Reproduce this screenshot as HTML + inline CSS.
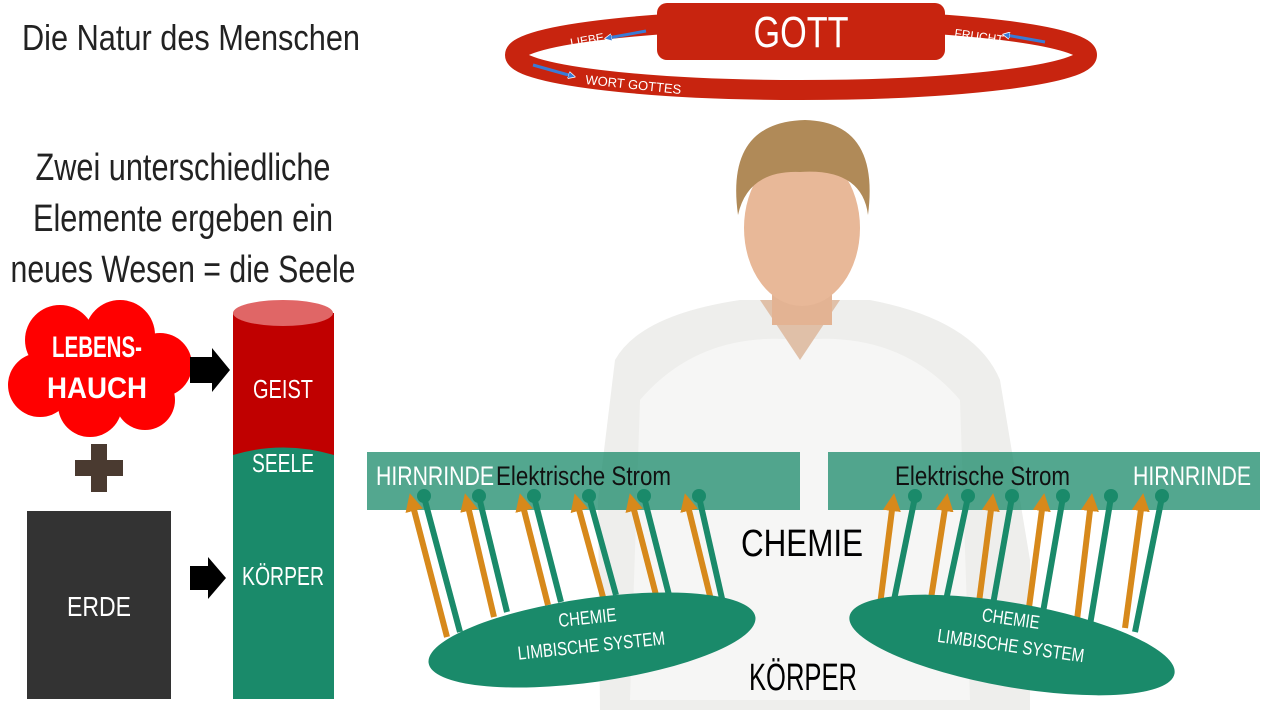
<!DOCTYPE html>
<html><head><meta charset="utf-8"><style>
html,body{margin:0;padding:0;background:#fff;width:1280px;height:720px;overflow:hidden}
text{font-family:"Liberation Sans Narrow","Liberation Sans",sans-serif}
</style></head><body>
<svg width="1280" height="720" viewBox="0 0 1280 720" xmlns="http://www.w3.org/2000/svg">
<defs>
<marker id="ah" viewBox="0 0 10 10" refX="5" refY="5" markerWidth="3" markerHeight="3" orient="auto"><path d="M0,0L10,5L0,10z" fill="#d7891b"/></marker>
<marker id="bh" viewBox="0 0 10 10" refX="5" refY="5" markerWidth="2.5" markerHeight="2.5" orient="auto"><path d="M0,0L10,5L0,10z" fill="#3a7bd5" stroke="#fff" stroke-width="1"/></marker>
</defs>
<!-- person -->
<path d="M615,360 Q640,315 740,300 L870,300 Q975,320 1000,380 L1030,560 L1030,710 L600,710 L598,500 Z" fill="#eeeeec"/>
<path d="M640,400 Q700,330 800,340 Q900,330 960,400 L970,700 L630,700 Z" fill="#f6f6f5"/>
<path d="M760,300 L800,360 L840,300 Z" fill="#e0c0a8"/>
<rect x="772" y="280" width="60" height="45" fill="#e3b393"/>
<ellipse cx="802" cy="228" rx="58" ry="78" fill="#e8b898"/>
<path d="M738,215 Q725,122 805,120 Q880,122 868,215 Q862,168 800,172 Q748,170 738,215Z" fill="#b08a58"/>
<!-- top ellipse ring -->
<ellipse cx="801" cy="55" rx="286" ry="35" fill="none" stroke="#c8240f" stroke-width="20"/>
<rect x="657" y="3" width="288" height="57" rx="10" fill="#c8240f"/>
<text x="801" y="47" font-size="44" fill="#fff" text-anchor="middle" textLength="95" lengthAdjust="spacingAndGlyphs">GOTT</text>
<text x="571" y="47" font-size="12" fill="#fff" transform="rotate(-10 571 47)">LIEBE</text>
<path d="M646,31 L608,38" stroke="#3a7bd5" stroke-width="3" marker-end="url(#bh)"/>
<text x="954" y="37" font-size="12" fill="#fff" transform="rotate(8 954 37)">FRUCHT</text>
<path d="M1045,42 L1006,35" stroke="#3a7bd5" stroke-width="3" marker-end="url(#bh)"/>
<path d="M533,65 L572,76" stroke="#3a7bd5" stroke-width="3" marker-end="url(#bh)"/>
<text x="585" y="84" font-size="13" fill="#fff" transform="rotate(6 585 84)">WORT GOTTES</text>
<!-- titles -->
<text x="22" y="50" font-size="36" fill="#222" textLength="338" lengthAdjust="spacingAndGlyphs">Die Natur des Menschen</text>
<text x="183" y="180" font-size="38" fill="#222" text-anchor="middle" textLength="295" lengthAdjust="spacingAndGlyphs">Zwei unterschiedliche</text>
<text x="183" y="231" font-size="38" fill="#222" text-anchor="middle" textLength="300" lengthAdjust="spacingAndGlyphs">Elemente ergeben ein</text>
<text x="183" y="282" font-size="38" fill="#222" text-anchor="middle" textLength="345" lengthAdjust="spacingAndGlyphs">neues Wesen = die Seele</text>
<!-- cloud -->
<g fill="#f00">
<circle cx="60" cy="340" r="35"/><circle cx="120" cy="335" r="35"/><circle cx="160" cy="365" r="32"/>
<circle cx="145" cy="400" r="30"/><circle cx="90" cy="405" r="32"/><circle cx="40" cy="385" r="32"/><circle cx="100" cy="370" r="40"/>
</g>
<text x="97" y="357" font-size="30" font-weight="bold" fill="#fff" text-anchor="middle" textLength="90" lengthAdjust="spacingAndGlyphs">LEBENS-</text>
<text x="97" y="398" font-size="30" font-weight="bold" fill="#fff" text-anchor="middle" textLength="100" lengthAdjust="spacingAndGlyphs">HAUCH</text>
<!-- plus -->
<rect x="75" y="460" width="48" height="16" fill="#4a3a30"/><rect x="91" y="444" width="16" height="48" fill="#4a3a30"/>
<!-- ERDE -->
<rect x="27" y="511" width="144" height="188" fill="#333"/>
<text x="99" y="616" font-size="28" fill="#fff" text-anchor="middle" textLength="64" lengthAdjust="spacingAndGlyphs">ERDE</text>
<!-- arrows -->
<path d="M190,357 L212,357 L212,348 L230,370 L212,392 L212,383 L190,383Z" fill="#000"/>
<path d="M190,566 L208,566 L208,557 L226,578 L208,599 L208,590 L190,590Z" fill="#000"/>
<!-- cylinder -->
<rect x="233" y="313" width="101" height="145" fill="#c00000"/>
<rect x="233" y="455" width="101" height="244" fill="#1a8a6a"/>
<path d="M233,455 Q283,440 334,455" fill="#1a8a6a"/>
<ellipse cx="283" cy="313" rx="50" ry="13" fill="#e06666"/>
<text x="283" y="398" font-size="26" fill="#fff" text-anchor="middle" textLength="60" lengthAdjust="spacingAndGlyphs">GEIST</text>
<text x="283" y="472" font-size="26" fill="#fff" text-anchor="middle" textLength="62" lengthAdjust="spacingAndGlyphs">SEELE</text>
<text x="283" y="585" font-size="26" fill="#fff" text-anchor="middle" textLength="82" lengthAdjust="spacingAndGlyphs">KÖRPER</text>
<!-- green bands -->
<rect x="367" y="452" width="433" height="58" fill="#1a8a6a" opacity="0.75"/>
<rect x="828" y="452" width="432" height="58" fill="#1a8a6a" opacity="0.75"/>
<text x="376" y="485" font-size="27" fill="#fff" textLength="118" lengthAdjust="spacingAndGlyphs">HIRNRINDE</text>
<text x="496" y="485" font-size="27" fill="#111" textLength="175" lengthAdjust="spacingAndGlyphs">Elektrische Strom</text>
<text x="895" y="485" font-size="27" fill="#111" textLength="175" lengthAdjust="spacingAndGlyphs">Elektrische Strom</text>
<text x="1133" y="485" font-size="27" fill="#fff" textLength="118" lengthAdjust="spacingAndGlyphs">HIRNRINDE</text>
<!-- left arrows -->
<g stroke-width="6">
<line x1="447" y1="637" x2="412" y2="502" stroke="#d7891b" marker-end="url(#ah)"/>
<line x1="460" y1="632" x2="424" y2="497" stroke="#1a8a6a"/>
<line x1="494" y1="617" x2="467" y2="502" stroke="#d7891b" marker-end="url(#ah)"/>
<line x1="507" y1="612" x2="479" y2="497" stroke="#1a8a6a"/>
<line x1="548" y1="605" x2="522" y2="502" stroke="#d7891b" marker-end="url(#ah)"/>
<line x1="561" y1="602" x2="534" y2="497" stroke="#1a8a6a"/>
<line x1="603" y1="597" x2="577" y2="502" stroke="#d7891b" marker-end="url(#ah)"/>
<line x1="616" y1="595" x2="589" y2="497" stroke="#1a8a6a"/>
<line x1="656" y1="595" x2="632" y2="502" stroke="#d7891b" marker-end="url(#ah)"/>
<line x1="669" y1="595" x2="644" y2="497" stroke="#1a8a6a"/>
<line x1="711" y1="600" x2="687" y2="502" stroke="#d7891b" marker-end="url(#ah)"/>
<line x1="723" y1="603" x2="699" y2="497" stroke="#1a8a6a"/>
</g>
<g fill="#1a8a6a"><circle cx="424" cy="496" r="7"/><circle cx="479" cy="496" r="7"/><circle cx="534" cy="496" r="7"/><circle cx="589" cy="496" r="7"/><circle cx="644" cy="496" r="7"/><circle cx="699" cy="496" r="7"/></g>
<!-- right arrows -->
<g stroke-width="6">
<line x1="880" y1="605" x2="893" y2="502" stroke="#d7891b" marker-end="url(#ah)"/>
<line x1="893" y1="605" x2="915" y2="497" stroke="#1a8a6a"/>
<line x1="930" y1="605" x2="946" y2="502" stroke="#d7891b" marker-end="url(#ah)"/>
<line x1="945" y1="605" x2="968" y2="497" stroke="#1a8a6a"/>
<line x1="978" y1="610" x2="992" y2="502" stroke="#d7891b" marker-end="url(#ah)"/>
<line x1="992" y1="610" x2="1012" y2="497" stroke="#1a8a6a"/>
<line x1="1028" y1="615" x2="1043" y2="502" stroke="#d7891b" marker-end="url(#ah)"/>
<line x1="1042" y1="618" x2="1063" y2="497" stroke="#1a8a6a"/>
<line x1="1077" y1="620" x2="1091" y2="502" stroke="#d7891b" marker-end="url(#ah)"/>
<line x1="1090" y1="625" x2="1111" y2="497" stroke="#1a8a6a"/>
<line x1="1125" y1="628" x2="1142" y2="502" stroke="#d7891b" marker-end="url(#ah)"/>
<line x1="1135" y1="632" x2="1162" y2="497" stroke="#1a8a6a"/>
</g>
<g fill="#1a8a6a"><circle cx="915" cy="496" r="7"/><circle cx="968" cy="496" r="7"/><circle cx="1012" cy="496" r="7"/><circle cx="1063" cy="496" r="7"/><circle cx="1111" cy="496" r="7"/><circle cx="1162" cy="496" r="7"/></g>
<!-- ellipses -->
<ellipse cx="592" cy="640" rx="165" ry="42" fill="#1a8a6a" transform="rotate(-8 592 640)"/>
<text x="588" y="624" font-size="19" fill="#fff" text-anchor="middle" transform="rotate(-6 588 624)" textLength="58" lengthAdjust="spacingAndGlyphs">CHEMIE</text>
<text x="592" y="652" font-size="19" fill="#fff" text-anchor="middle" transform="rotate(-6 592 652)" textLength="148" lengthAdjust="spacingAndGlyphs">LIMBISCHE SYSTEM</text>
<ellipse cx="1012" cy="645" rx="165" ry="42" fill="#1a8a6a" transform="rotate(10 1012 645)"/>
<text x="1010" y="625" font-size="19" fill="#fff" text-anchor="middle" transform="rotate(8 1010 625)" textLength="58" lengthAdjust="spacingAndGlyphs">CHEMIE</text>
<text x="1010" y="652" font-size="19" fill="#fff" text-anchor="middle" transform="rotate(8 1010 652)" textLength="148" lengthAdjust="spacingAndGlyphs">LIMBISCHE SYSTEM</text>
<text x="802" y="556" font-size="38" fill="#000" text-anchor="middle" textLength="122" lengthAdjust="spacingAndGlyphs">CHEMIE</text>
<text x="803" y="690" font-size="38" fill="#000" text-anchor="middle" textLength="108" lengthAdjust="spacingAndGlyphs">KÖRPER</text>
</svg>
</body></html>
